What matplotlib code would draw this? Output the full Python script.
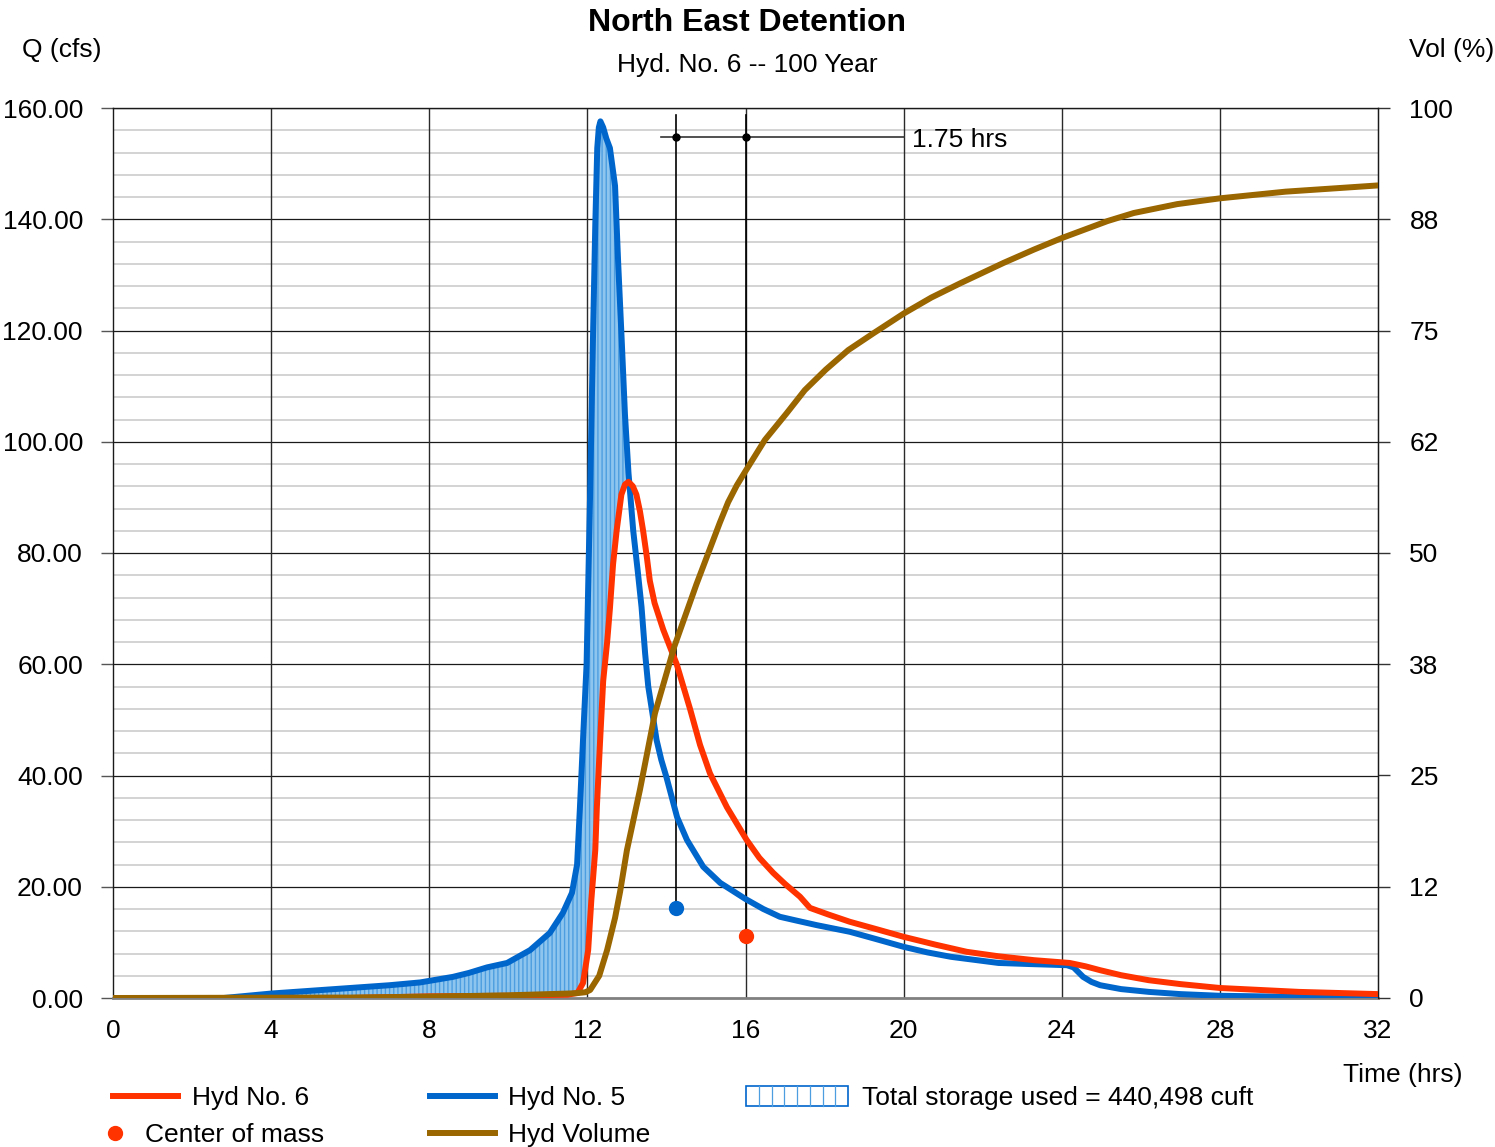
import matplotlib
matplotlib.use('Agg')
import matplotlib.pyplot as plt
from matplotlib.lines import Line2D
from matplotlib.patches import Rectangle

plt.rcParams['font.family'] = ['Liberation Sans', 'DejaVu Sans']
plt.rcParams['hatch.linewidth'] = 1.0

# ---------------- data ----------------
title = "North East Detention"
subtitle = "Hyd. No. 6 -- 100 Year"

# Hyd No. 5 (inflow)
blue_t = [0, 2.8, 4, 5, 6, 7, 7.77, 8.6, 9.0, 9.46, 9.97, 10.55, 11.05, 11.38, 11.61,
          11.74, 11.81, 11.9, 11.98, 12.07, 12.14, 12.2, 12.25, 12.29, 12.33, 12.4,
          12.48, 12.57, 12.7, 12.78, 12.87, 12.95, 13.04, 13.16, 13.27, 13.37, 13.46,
          13.54, 13.63, 13.75, 13.87, 14.0, 14.27, 14.52, 14.93, 15.36, 16.0, 16.45,
          16.87, 17.3, 17.8, 18.64, 19.3, 20.0, 20.6, 21.2, 22.4, 23.2, 24.13, 24.3,
          24.54, 24.75, 24.97, 25.5, 26.2, 27.0, 28.0, 30.0, 32.0]
blue_q = [0, 0, 0.8, 1.3, 1.8, 2.3, 2.8, 3.8, 4.5, 5.5, 6.3, 8.6, 11.7, 15.3, 18.9,
          24, 34, 48, 60, 91, 118, 139, 152.8, 156.5, 157.6, 156.5,
          154.5, 152.8, 146, 132, 118, 105, 94.4, 84, 77, 70.3, 62,
          56, 51.9, 46.4, 42.8, 39.7, 32.5, 28.4, 23.6, 20.7, 17.8, 16.0,
          14.6, 13.9, 13.1, 11.9, 10.6, 9.2, 8.2, 7.4, 6.3, 6.1, 5.9, 5.5,
          3.8, 2.9, 2.3, 1.6, 1.1, 0.7, 0.4, 0.2, 0.1]

# Hyd No. 6 (outflow)
red_t = [0, 6, 8, 10, 11.5, 11.75, 11.89, 12.02, 12.1, 12.2, 12.24, 12.32, 12.4, 12.5,
         12.57, 12.65, 12.74, 12.86, 12.95, 13.04, 13.15, 13.24, 13.33, 13.41, 13.5,
         13.58, 13.7, 13.92, 14.26, 14.6, 14.85, 15.1, 15.53, 16.03, 16.35, 16.7, 17.0,
         17.38, 17.63, 18.1, 18.64, 19.3, 20.0, 20.8, 21.6, 22.4, 23.3, 24.2, 24.6,
         24.97, 25.5, 26.2, 27.0, 28.0, 30.0, 32.0]
red_q = [0, 0, 0.3, 0.4, 0.6, 0.9, 2.7, 8.6, 17.6, 26.6, 34.3, 46, 57, 64,
         70, 78, 84, 90.5, 92.3, 92.8, 92, 90.5, 87.5, 84, 79.5,
         75, 71, 66.2, 60, 51.9, 45.5, 40.4, 34.3, 28.4, 25.2, 22.5, 20.5,
         18.2, 16.2, 15.0, 13.7, 12.4, 11.0, 9.6, 8.3, 7.5, 6.8, 6.3, 5.7,
         5.0, 4.1, 3.2, 2.5, 1.8, 1.1, 0.7]

# Hyd Volume (%)
vol_t = [0, 6, 8, 10, 11.5, 11.75, 11.95, 12.07, 12.3, 12.5, 12.7, 12.83, 13.0, 13.33,
         13.71, 14.2, 14.76, 15.35, 15.56, 15.78, 16.0, 16.49, 17.04, 17.5, 18.03, 18.6,
         19.24, 20.0, 20.7, 21.43, 22.53, 23.3, 24.01, 25.16, 25.82, 26.92, 28.0, 29.66,
         32.0]
vol_p = [0, 0.05, 0.15, 0.3, 0.5, 0.55, 0.65, 0.9, 2.5, 5.4, 9, 12, 16.6, 23.4,
         32, 39.5, 46.5, 53.4, 55.7, 57.6, 59.2, 62.7, 65.7, 68.3, 70.6, 72.8,
         74.7, 76.9, 78.7, 80.3, 82.6, 84.1, 85.4, 87.3, 88.2, 89.2, 89.85, 90.6,
         91.3]

# centers of mass (inflow, outflow)
com_t = [14.25, 16.0]
com_q = [16.2, 11.1]
lag_label = "1.75 hrs"
storage_label = "Total storage used = 440,498 cuft"

x_ticks = [0, 4, 8, 12, 16, 20, 24, 28, 32]
y_ticks = [0, 20, 40, 60, 80, 100, 120, 140, 160]
y_minor = [v for v in range(0, 161, 4) if v % 20 != 0]
r_ticks = [0, 12.5, 25, 37.5, 50, 62.5, 75, 87.5, 100]
r_labels = ['0', '12', '25', '38', '50', '62', '75', '88', '100']

RED = '#ff3300'
BLUE = '#0066cc'
BROWN = '#996600'
LW = 4.3

# ---------------- figure ----------------
W, H = 1495, 1147
fig = plt.figure(figsize=(W / 100, H / 100), dpi=100)


def fx(px):
    return px / W


def fy(py):
    return 1 - py / H


ax = fig.add_axes([fx(113), fy(998), fx(1378) - fx(113), fy(108) - fy(998)])
ax.set_xlim(0, 32)
ax.set_ylim(0, 160)

# grid
for v in y_minor:
    ax.axhline(v, color='#c8c8c8', lw=1.1, zorder=0.5)
for v in y_ticks[1:]:
    ax.axhline(v, color='#1a1a1a', lw=0.9, zorder=0.6)
for v in x_ticks[1:-1]:
    ax.axvline(v, color='#2a2a2a', lw=1.0, zorder=0.6)

# storage fill between inflow and outflow (until they cross)
t_cross = 13.04
fx_b = [t for t in blue_t if t <= t_cross]
fy_b = [q for t, q in zip(blue_t, blue_q) if t <= t_cross]
fx_r = [t for t in red_t if t <= t_cross][::-1]
fy_r = [q for t, q in zip(red_t, red_q) if t <= t_cross][::-1]
ax.fill(fx_b + fx_r, fy_b + fy_r, facecolor='#8ec5ee', edgecolor='#4d9ee0',
        hatch='||||', linewidth=0, zorder=1)

ax.plot(blue_t, blue_q, color=BLUE, lw=LW, zorder=3, solid_joinstyle='round')
ax.plot(red_t, red_q, color=RED, lw=LW, zorder=3, solid_joinstyle='round')

# center of mass markers and lag annotation
ax.plot([com_t[0]], [com_q[0]], 'o', color=BLUE, ms=10, zorder=4)
ax.plot([com_t[1]], [com_q[1]], 'o', color=RED, ms=10, zorder=4)
top_y = 158.7
bar_y = 154.7
for t, q in zip(com_t, com_q):
    ax.plot([t, t], [q, top_y], color='black', lw=1.2, zorder=2)
ax.plot([13.86, 20.0], [bar_y, bar_y], color='#333333', lw=1.2, zorder=2)
ax.plot(com_t, [bar_y, bar_y], 'o', color='black', ms=5, zorder=4)
ax.text(20.22, bar_y - 0.4, lag_label, fontsize=19, va='center', ha='left')

ax.set_xticks(x_ticks)
ax.set_xticklabels([str(v) for v in x_ticks])
ax.set_yticks(y_ticks)
ax.set_yticklabels([f'{v:.2f}' for v in y_ticks])
ax.tick_params(axis='x', length=0, pad=15, labelsize=19)
ax.tick_params(axis='y', length=8.6, width=1.0, color='#555555', pad=13, labelsize=19)

for s in ['left', 'top', 'right']:
    ax.spines[s].set_color('#1a1a1a')
    ax.spines[s].set_linewidth(1.0)
ax.spines['bottom'].set_color('#808080')
ax.spines['bottom'].set_linewidth(2.0)

# right axis: volume %
ax2 = ax.twinx()
ax2.set_ylim(0, 100)
ax2.plot(vol_t, vol_p, color=BROWN, lw=LW, zorder=3, solid_joinstyle='round')
ax2.set_yticks(r_ticks)
ax2.set_yticklabels(r_labels)
ax2.tick_params(axis='y', length=8.6, width=1.0, color='#333333', pad=14, labelsize=19)
for s in ['left', 'top', 'bottom']:
    ax2.spines[s].set_visible(False)
ax2.spines['right'].set_color('#1a1a1a')

# titles and axis labels
fig.text(fx(747), fy(23), title, fontsize=23, fontweight='bold', ha='center', va='center')
fig.text(fx(747), fy(65), subtitle, fontsize=19, ha='center', va='center')
fig.text(fx(62), fy(50), 'Q (cfs)', fontsize=19, ha='center', va='center')
fig.text(fx(1452), fy(50), 'Vol (%)', fontsize=19, ha='center', va='center')
fig.text(fx(1403), fy(1075), 'Time (hrs)', fontsize=19, ha='center', va='center')

# legend (manual layout)
def leg_line(x0, x1, y, color):
    fig.add_artist(Line2D([fx(x0), fx(x1)], [fy(y), fy(y)], color=color, lw=LW,
                          transform=fig.transFigure))

leg_line(113, 178, 1096, RED)
fig.text(fx(192), fy(1098), 'Hyd No. 6', fontsize=19, va='center')
fig.add_artist(Line2D([fx(115)], [fy(1133)], marker='o', color=RED, ms=10, lw=0,
                      transform=fig.transFigure))
fig.text(fx(145), fy(1135), 'Center of mass', fontsize=19, va='center')

leg_line(430, 495, 1096, BLUE)
fig.text(fx(508), fy(1098), 'Hyd No. 5', fontsize=19, va='center')
leg_line(430, 495, 1133, BROWN)
fig.text(fx(508), fy(1135), 'Hyd Volume', fontsize=19, va='center')

rx0, rx1, ry0, ry1 = 746, 848, 1086, 1106
fig.add_artist(Rectangle((fx(rx0), fy(ry1)), fx(rx1) - fx(rx0), fy(ry0) - fy(ry1),
                         facecolor='white', edgecolor=BLUE, lw=1.2,
                         transform=fig.transFigure))
for i in range(1, 8):
    xx = rx0 + (rx1 - rx0) * i / 8
    fig.add_artist(Line2D([fx(xx), fx(xx)], [fy(ry0), fy(ry1)], color='#4d9ee0', lw=0.9,
                          transform=fig.transFigure))
fig.text(fx(862), fy(1098), storage_label, fontsize=19, va='center')

fig.savefig('out.png', dpi=100)
